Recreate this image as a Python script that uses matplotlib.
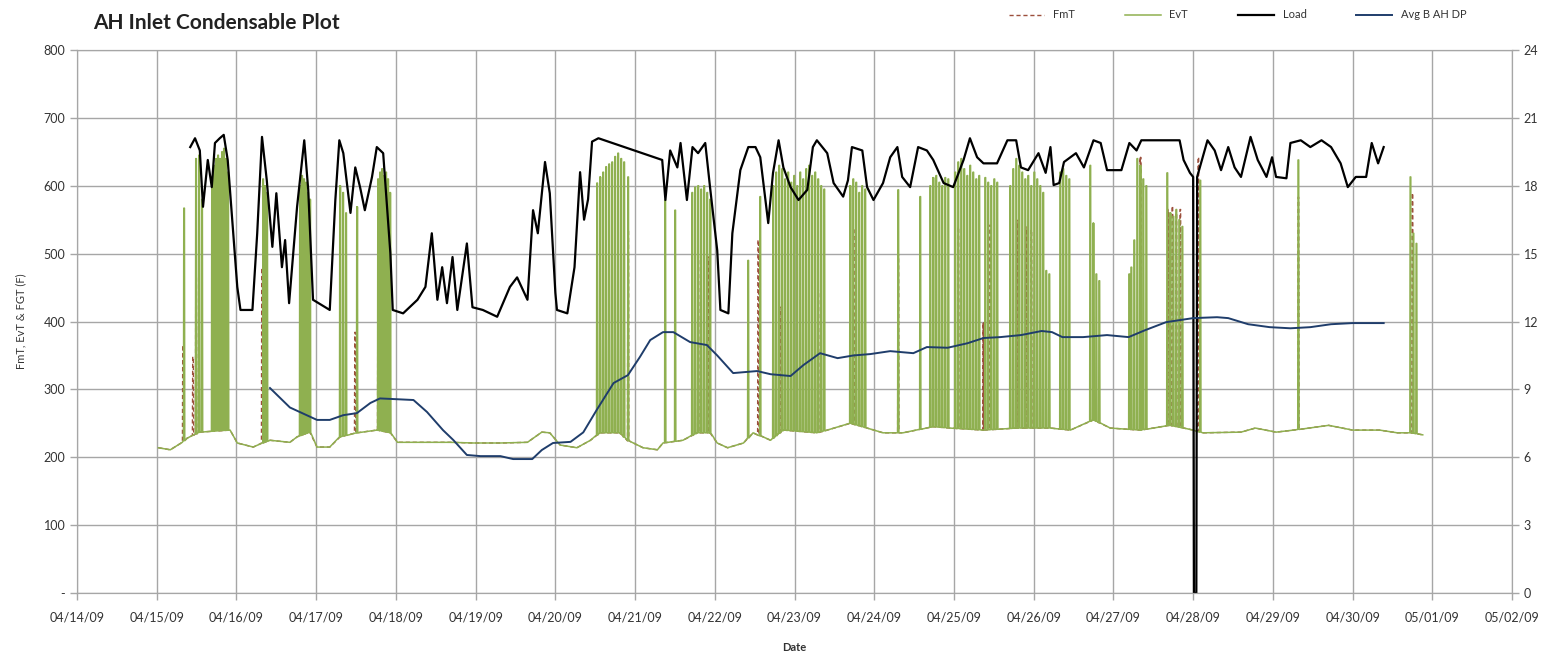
import datetime
import numpy as np
import matplotlib
matplotlib.use("Agg")
import matplotlib.pyplot as plt
import matplotlib.dates as mdates
from matplotlib.lines import Line2D
from matplotlib.ticker import FuncFormatter, MultipleLocator

plt.rcParams['font.family'] = ['Lato', 'DejaVu Sans']

# all times are days after 04/14/09 00:00
start = datetime.datetime(2009, 4, 14)

# Load (black)
load_t = [1.42, 1.48, 1.54, 1.58, 1.64, 1.69, 1.73, 1.79, 1.84, 1.89, 1.96, 2.01, 2.05, 2.20, 2.26,
          2.32, 2.38, 2.45, 2.50, 2.57, 2.61, 2.66, 2.76, 2.85, 2.90, 2.96, 3.17, 3.24, 3.29, 3.34,
          3.43, 3.49, 3.55, 3.61, 3.70, 3.76, 3.84, 3.93, 3.96, 4.09, 4.27, 4.37, 4.45, 4.52, 4.58,
          4.64, 4.71, 4.77, 4.89, 4.96, 5.09, 5.27, 5.43, 5.52, 5.65, 5.72, 5.78, 5.87, 5.93, 6.00,
          6.02, 6.15, 6.24, 6.31, 6.36, 6.41, 6.46, 6.54, 7.34, 7.38, 7.44, 7.53, 7.57, 7.65, 7.72,
          7.79, 7.88, 7.94, 8.03, 8.07, 8.17, 8.22, 8.32, 8.42, 8.51, 8.57, 8.67, 8.73, 8.80, 8.86,
          8.95, 9.05, 9.16, 9.23, 9.28, 9.41, 9.49, 9.61, 9.67, 9.72, 9.85, 9.91, 9.99, 10.11, 10.20,
          10.29, 10.35, 10.45, 10.55, 10.66, 10.74, 10.87, 10.99, 11.12, 11.20, 11.29, 11.37, 11.54,
          11.67, 11.78, 11.84, 11.93, 12.06, 12.15, 12.21, 12.25, 12.32, 12.38, 12.53, 12.63, 12.75,
          12.84, 12.92, 13.10, 13.20, 13.29, 13.35, 13.58, 13.83, 13.88, 13.96, 14.00, 14.01, 14.04,
          14.05, 14.18, 14.27, 14.35, 14.44, 14.52, 14.60, 14.72, 14.81, 14.92, 14.99, 15.04, 15.17,
          15.22, 15.35, 15.47, 15.61, 15.73, 15.85, 15.94, 16.04, 16.17, 16.24, 16.32, 16.39]
load_v = [657, 670, 652, 569, 638, 598, 663, 670, 675, 638, 530, 451, 417, 417, 530,
          672, 608, 510, 589, 480, 520, 427, 569, 667, 594, 432, 417, 579, 667, 648,
          560, 627, 598, 564, 613, 657, 648, 501, 417, 412, 432, 451, 530, 432, 480,
          427, 495, 417, 515, 421, 417, 407, 451, 465, 432, 564, 530, 635, 589, 442,
          417, 412, 480, 620, 550, 580, 665, 670, 638, 579, 652, 627, 663, 579, 657,
          648, 663, 598, 505, 417, 412, 530, 623, 657, 657, 642, 545, 619, 667, 627,
          598, 579, 594, 657, 667, 648, 604, 584, 608, 657, 652, 598, 579, 604, 642,
          657, 613, 598, 657, 652, 638, 604, 598, 638, 670, 642, 633, 633,
          667, 667, 627, 623, 648, 619, 657, 601, 604, 635, 648, 627, 667,
          663, 623, 623, 663, 652, 667, 667, 667, 638, 619, 613, 0, 0,
          613, 667, 652, 623, 657, 627, 613, 672, 638, 613, 642, 613, 611,
          663, 667, 657, 667, 657, 633, 598, 613, 613, 663, 633, 657]

# Avg B AH DP (navy, right axis)
dp_t = [2.42, 2.67, 3.01, 3.17, 3.34, 3.51, 3.68, 3.80, 4.22, 4.39, 4.59, 4.72, 4.89, 5.06, 5.31,
        5.47, 5.71, 5.83, 5.97, 6.19, 6.35, 6.52, 6.73, 6.91, 7.06, 7.19, 7.35, 7.48, 7.69, 7.90,
        8.03, 8.23, 8.53, 8.70, 8.95, 9.11, 9.32, 9.54, 9.74, 9.95, 10.20, 10.49, 10.66, 10.92,
        11.17, 11.37, 11.58, 11.84, 12.10, 12.23, 12.36, 12.62, 12.92, 13.19, 13.40, 13.66, 14.00,
        14.30, 14.44, 14.69, 14.96, 15.22, 15.47, 15.73, 16.00, 16.39]
dp_v = [9.06, 8.2, 7.65, 7.65, 7.86, 7.95, 8.4, 8.6, 8.53, 8.0, 7.2, 6.76, 6.1, 6.05, 6.05,
        5.92, 5.92, 6.32, 6.63, 6.68, 7.1, 8.1, 9.28, 9.63, 10.43, 11.18, 11.53, 11.53, 11.09, 10.96,
        10.5, 9.72, 9.81, 9.67, 9.59, 10.07, 10.6, 10.38, 10.5, 10.56, 10.69, 10.6, 10.87, 10.84,
        11.04, 11.27, 11.31, 11.4, 11.58, 11.53, 11.31, 11.31, 11.4, 11.31, 11.62, 11.97, 12.15,
        12.19, 12.15, 11.88, 11.75, 11.7, 11.75, 11.88, 11.93, 11.93]

# EvT baseline between firings
base_t = [1.02, 1.17, 1.32, 1.38, 1.54, 1.92, 2.01, 2.21, 2.33, 2.42, 2.67, 2.76, 2.92, 3.01, 3.17,
          3.30, 3.51, 3.76, 3.93, 4.02, 4.27, 4.68, 4.97, 5.31, 5.65, 5.83, 5.93, 6.06, 6.27, 6.44,
          6.56, 6.81, 6.90, 7.10, 7.28, 7.35, 7.60, 7.78, 7.94, 8.03, 8.16, 8.36, 8.48, 8.70, 8.86,
          9.28, 9.41, 9.70, 9.91, 10.11, 10.36, 10.74, 10.95, 11.37, 11.79, 12.21, 12.46, 12.75,
          12.96, 13.34, 13.71, 14.00, 14.12, 14.60, 14.78, 15.04, 15.26, 15.70, 16.00, 16.34, 16.56,
          16.73, 16.88]
base_v = [214, 211, 222, 228, 237, 240, 221, 215, 221, 225, 222, 230, 237, 215, 215,
          230, 236, 240, 236, 222, 222, 222, 221, 221, 222, 237, 236, 218, 214, 225,
          236, 236, 225, 214, 211, 221, 225, 236, 236, 221, 214, 221, 236, 225, 240,
          236, 240, 250, 243, 236, 236, 245, 243, 240, 243, 243, 240, 255,
          243, 240, 247, 240, 236, 237, 243, 237, 240, 247, 240, 240, 236,
          236, 233]

# EvT spikes (time, peak)
evt_t = [1.343, 1.493, 1.531, 1.568, 1.694, 1.719, 1.744, 1.769, 1.794, 1.819, 1.844, 1.870, 1.895,
         2.334, 2.359, 2.384, 2.798, 2.823, 2.848, 2.873, 2.898, 2.923, 3.300, 3.338, 3.375, 3.513,
         3.777, 3.802, 3.827, 3.852, 3.877, 3.902, 3.927,
         6.524, 6.562, 6.600, 6.637, 6.675, 6.713, 6.750, 6.788, 6.826, 6.863, 6.913, 7.378, 7.503,
         7.717, 7.754, 7.792, 7.829, 7.867, 7.905, 7.942, 8.419, 8.570,
         8.733, 8.770, 8.808, 8.846, 8.883, 8.921, 8.959, 8.996, 9.034, 9.072, 9.109, 9.147, 9.184,
         9.222, 9.260, 9.297, 9.335, 9.373,
         9.699, 9.737, 9.774, 9.812, 9.849, 9.887, 10.301, 10.577,
         10.703, 10.740, 10.778, 10.816, 10.853, 10.891, 10.929,
         11.016, 11.054, 11.092, 11.129, 11.167, 11.204, 11.242, 11.280, 11.317,
         11.393, 11.430, 11.468, 11.506, 11.543,
         11.706, 11.744, 11.782, 11.819, 11.857, 11.895, 11.932, 11.970, 12.008, 12.045, 12.083,
         12.120, 12.158, 12.196, 12.334, 12.371, 12.409, 12.447, 12.710, 12.748, 12.786, 12.823,
         13.199, 13.225, 13.262, 13.300, 13.338, 13.375, 13.413,
         13.676, 13.714, 13.752, 13.789, 13.827, 13.865, 14.090, 15.320, 16.726, 16.763, 16.801]
evt_v = [567, 640, 645, 580, 600, 630, 640, 645, 640, 650, 655, 640, 620,
         610, 600, 590, 600, 615, 610, 605, 590, 580, 600, 590, 560, 569,
         610, 620, 625, 615, 620, 610, 590,
         604, 613, 620, 628, 632, 635, 643, 648, 640, 635, 613, 579, 564,
         590, 598, 600, 595, 600, 590, 580, 490, 584,
         600, 620, 630, 625, 610, 620, 605, 615, 600, 620, 610, 625, 630,
         615, 620, 610, 600, 595,
         600, 610, 605, 590, 600, 595, 594, 584,
         600, 612, 615, 605, 600, 612, 610,
         620, 635, 640, 625, 615, 630, 620, 610, 615,
         612, 605, 600, 610, 605,
         600, 625, 640, 630, 620, 610, 615, 600, 620, 610, 600,
         590, 475, 470, 620, 625, 615, 610, 630, 545, 470, 460,
         470, 480, 520, 640, 630, 610, 600,
         619, 560, 555, 565, 550, 540, 608, 638, 613, 530, 515]

# FmT spikes that show outside the EvT ones
fmt_t = [1.330, 1.455, 1.493, 1.731, 2.321, 3.488, 3.777, 6.913, 7.792, 7.917, 8.545, 8.821, 9.297,
         9.762, 10.301, 11.054, 11.368, 11.455, 11.794, 11.907, 11.970, 13.338, 13.689, 13.739,
         13.789, 13.839, 14.065, 15.320, 16.751]
fmt_v = [365, 348, 465, 486, 478, 384, 446, 535, 495, 495, 520, 421, 446,
         535, 498, 539, 398, 542, 549, 539, 535, 642, 565, 570,
         560, 565, 642, 583, 589]


def with_spikes(st, sv, bt, bv, w=0.008):
    # put each firing on top of the baseline trace
    t = list(bt)
    v = list(bv)
    for ti, vi in zip(st, sv):
        foot = np.interp(ti, bt, bv)
        t += [ti - w, ti - w / 2, ti + w / 2, ti + w]
        v += [foot, vi, vi, foot]
    order = np.argsort(t)
    return np.array(t)[order], np.array(v)[order]


x0 = mdates.date2num(start)
evt_x, evt_y = with_spikes(evt_t, evt_v, base_t, base_v)
fmt_x, fmt_y = with_spikes(fmt_t, fmt_v, base_t, base_v)

green = '#8FB050'
brown = '#9C4F3C'
navy = '#1F3D6B'
grid = '#a6a6a6'

fig = plt.figure(figsize=(15.47, 6.52), dpi=100)
ax = fig.add_axes([0.0498, 0.0905, 0.9276, 0.8328])
ax2 = ax.twinx()

ax.plot(x0 + fmt_x, fmt_y, color=brown, lw=1.0, dashes=(3, 2))
ax.plot(x0 + evt_x, evt_y, color=green, lw=1.1)
ax.plot(x0 + np.array(load_t), load_v, color='black', lw=1.6)
ax2.plot(x0 + np.array(dp_t), dp_v, color=navy, lw=1.4)

ax.set_xlim(x0, x0 + 18)
ax.set_ylim(0, 800)
ax2.set_ylim(0, 24)
ax.yaxis.set_major_locator(MultipleLocator(100))
ax2.yaxis.set_major_locator(MultipleLocator(3))
ax.yaxis.set_major_formatter(FuncFormatter(lambda v, p: '-' if v == 0 else '%d' % v))
ax.xaxis.set_major_locator(mdates.DayLocator())
ax.xaxis.set_major_formatter(mdates.DateFormatter('%m/%d/%y'))

ax.grid(True, color=grid, lw=1)
ax.set_axisbelow(True)
for a in (ax, ax2):
    for s in a.spines.values():
        s.set_color(grid)
    a.tick_params(colors=grid, labelcolor='#333333', labelsize=9, length=5, width=1)
ax.tick_params(axis='x', pad=8)

ax.set_ylabel('FmT, EvT & FGT (F)', fontsize=8, color='#333333', labelpad=12)
ax.set_xlabel('Date', fontsize=8, fontweight='bold', color='#333333', labelpad=14)
fig.text(0.06, 0.965, 'AH Inlet Condensable Plot', fontsize=15, fontweight='bold',
         color='#222222', va='center')

handles = [Line2D([], [], color=brown, lw=1.0, dashes=(3, 2)),
           Line2D([], [], color=green, lw=1.1),
           Line2D([], [], color='black', lw=1.6),
           Line2D([], [], color=navy, lw=1.4)]
fig.legend(handles, ['FmT', 'EvT', 'Load', 'Avg B AH DP'], loc='center',
           bbox_to_anchor=(0.80, 0.977), ncol=4, frameon=False, fontsize=8,
           handlelength=3.2, columnspacing=4.5, labelcolor='#333333')

fig.savefig('out.png', dpi=100)
